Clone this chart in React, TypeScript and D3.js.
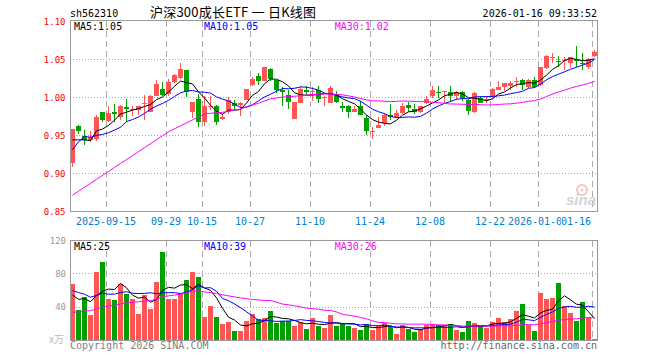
import React, { useRef, useEffect } from "react";
import * as d3 from "d3";

// trading days shown on the chart
const dates = [
  "2025-09-05",
  "2025-09-08", "2025-09-09", "2025-09-10", "2025-09-11", "2025-09-12",
  "2025-09-15", "2025-09-16", "2025-09-17", "2025-09-18", "2025-09-19",
  "2025-09-22", "2025-09-23", "2025-09-24", "2025-09-25", "2025-09-26",
  "2025-09-29", "2025-09-30", "2025-10-09", "2025-10-10",
  "2025-10-13", "2025-10-14", "2025-10-15", "2025-10-16", "2025-10-17",
  "2025-10-20", "2025-10-21", "2025-10-22", "2025-10-23", "2025-10-24",
  "2025-10-27", "2025-10-28", "2025-10-29", "2025-10-30", "2025-10-31",
  "2025-11-03", "2025-11-04", "2025-11-05", "2025-11-06", "2025-11-07",
  "2025-11-10", "2025-11-11", "2025-11-12", "2025-11-13", "2025-11-14",
  "2025-11-17", "2025-11-18", "2025-11-19", "2025-11-20", "2025-11-21",
  "2025-11-24", "2025-11-25", "2025-11-26", "2025-11-27", "2025-11-28",
  "2025-12-01", "2025-12-02", "2025-12-03", "2025-12-04", "2025-12-05",
  "2025-12-08", "2025-12-09", "2025-12-10", "2025-12-11", "2025-12-12",
  "2025-12-15", "2025-12-16", "2025-12-17", "2025-12-18", "2025-12-19",
  "2025-12-22", "2025-12-23", "2025-12-24", "2025-12-25", "2025-12-26",
  "2025-12-29", "2025-12-30", "2025-12-31",
  "2026-01-05", "2026-01-06", "2026-01-07", "2026-01-08", "2026-01-09",
  "2026-01-12", "2026-01-13", "2026-01-14", "2026-01-15", "2026-01-16",
];

const opens = [
  0.913, 0.962, 0.949, 0.944, 0.945, 0.981, 0.969, 0.98, 0.974, 0.987,
  0.983, 0.983, 0.991, 0.981, 1.002, 1.011, 1.004, 1.02, 1.025, 1.036,
  0.98, 0.997, 0.968, 0.988, 0.989, 0.971, 0.98, 0.993, 0.99, 0.996,
  1.016, 1.028, 1.021, 1.037, 1.023, 1.01, 1.003, 0.972, 0.993, 1.009,
  1.007, 1.009, 0.999, 0.993, 1.004, 0.988, 0.988, 0.98, 0.989, 0.973,
  0.955, 0.96, 0.966, 0.976, 0.974, 0.979, 0.99, 0.985, 0.98, 0.992,
  1.001, 1.007, 1.007, 1.007, 1.001, 1.007, 0.996, 0.981, 0.999, 0.997,
  1.001, 1.01, 1.014, 1.015, 1.02, 1.022, 1.013, 1.022, 1.016, 1.038,
  1.052, 1.048, 1.047, 1.045, 1.05, 1.045, 1.04, 1.054,
];
const highs = [
  0.958, 0.963, 0.957, 0.955, 0.977, 0.981, 0.989, 0.991, 0.99, 0.997,
  0.989, 0.988, 1.003, 1.003, 1.023, 1.02, 1.024, 1.031, 1.045, 1.036,
  0.994, 1.004, 1.001, 1.001, 0.99, 0.978, 1.0, 0.996, 0.994, 1.011,
  1.027, 1.032, 1.04, 1.038, 1.023, 1.013, 1.009, 0.994, 1.015, 1.015,
  1.014, 1.015, 1.002, 1.015, 1.008, 0.994, 0.99, 0.989, 0.995, 0.977,
  0.961, 0.974, 0.979, 0.991, 0.983, 0.992, 0.994, 0.991, 0.989, 1.001,
  1.015, 1.015, 1.008, 1.015, 1.008, 1.008, 0.997, 1.007, 1.001, 1.001,
  1.012, 1.021, 1.018, 1.021, 1.027, 1.024, 1.024, 1.027, 1.039, 1.056,
  1.058, 1.054, 1.053, 1.053, 1.067, 1.058, 1.051, 1.062,
];
const lows = [
  0.908, 0.952, 0.937, 0.941, 0.942, 0.967, 0.967, 0.967, 0.97, 0.968,
  0.975, 0.976, 0.97, 0.98, 1.001, 1.002, 1.002, 1.018, 1.024, 1.0,
  0.973, 0.961, 0.962, 0.983, 0.963, 0.97, 0.978, 0.983, 0.975, 0.996,
  1.015, 1.016, 1.021, 1.021, 1.006, 0.988, 0.985, 0.971, 0.992, 1.003,
  0.995, 0.992, 0.988, 0.993, 0.993, 0.98, 0.973, 0.98, 0.976, 0.95,
  0.945, 0.959, 0.962, 0.97, 0.973, 0.978, 0.98, 0.978, 0.979, 0.991,
  0.999, 0.999, 0.992, 0.994, 0.996, 0.995, 0.977, 0.979, 0.992, 0.992,
  0.997, 1.009, 1.008, 1.01, 1.014, 1.01, 1.012, 1.012, 1.015, 1.037,
  1.045, 1.04, 1.036, 1.038, 1.04, 1.036, 1.037, 1.053,
];
const closes = [
  0.958, 0.955, 0.944, 0.948, 0.974, 0.97, 0.979, 0.978, 0.989, 0.985,
  0.985, 0.988, 0.992, 1.002, 1.017, 1.003, 1.02, 1.029, 1.037, 1.007,
  0.994, 0.968, 0.989, 0.989, 0.968, 0.974, 0.996, 0.988, 0.993, 1.011,
  1.024, 1.021, 1.039, 1.024, 1.01, 1.007, 0.994, 0.994, 1.011, 1.007,
  1.008, 0.998, 1.0, 1.012, 0.994, 0.986, 0.98, 0.985, 0.977, 0.955,
  0.956, 0.964, 0.976, 0.974, 0.979, 0.989, 0.986, 0.981, 0.989, 0.997,
  1.009, 1.006, 1.008, 1.001, 1.007, 0.999, 0.982, 1.005, 0.993, 0.998,
  1.011, 1.014, 1.018, 1.019, 1.021, 1.016, 1.022, 1.014, 1.039, 1.054,
  1.053, 1.046, 1.049, 1.053, 1.047, 1.044, 1.05, 1.059,
];
// volume in 万手
const volumes = [
  67.2, 36, 51.2, 30, 81.6, 93.6, 49.2, 48, 67.2, 55.2,
  49.6, 31.2, 54, 37.2, 70, 105.6, 49.2, 49.2, 56, 72,
  81.6, 75.6, 27.6, 40.8, 27.6, 19.2, 21.6, 10.8, 10.8, 22.8,
  31.2, 25.2, 26.4, 34.8, 20.4, 22.8, 22.8, 16.8, 21.6, 13.2,
  26.4, 16.8, 14.4, 30, 16.8, 20, 16.8, 14.4, 12, 19.2,
  12, 16.8, 20.4, 16.8, 7.2, 18, 13.2, 9.6, 13.2, 18,
  19.2, 18, 18, 19.2, 12, 9.6, 22.8, 20.4, 16.8, 14.4,
  21.6, 26.4, 21.6, 25.2, 34.8, 43.2, 18, 10.8, 56, 49.2,
  51, 68, 40.8, 32.4, 22.8, 45.6, 27.6, 1.2,
];

// the 29 sessions before the window, estimated from where the MA lines start
const prevCloses = [
  0.799, 0.788, 0.792, 0.818, 0.814, 0.823, 0.822, 0.833, 0.829, 0.829,
  0.832, 0.836, 0.846, 0.861, 0.847, 0.864, 0.912, 0.92, 0.89, 0.877,
  0.851, 0.872, 0.96, 0.95, 0.957, 0.955, 0.944, 0.953, 0.91,
];
const prevVolumes = [
  18, 22, 16, 20, 25, 19, 14, 17, 21, 23,
  18, 26, 22, 19, 15, 20, 24, 21, 23, 21,
  58, 72, 66, 60, 66, 62, 47.2, 48, 45.6,
];

const tickDates = [
  "2025-09-15", "2025-09-29", "2025-10-15", "2025-10-27", "2025-11-10",
  "2025-11-24", "2025-12-08", "2025-12-22", "2026-01-05", "2026-01-16",
];
const tickLabels = [
  "2025-09-15", "09-29", "10-15", "10-27", "11-10",
  "11-24", "12-08", "12-22", "2026-01-05", "01-16",
];
const priceTicks = [0.85, 0.9, 0.95, 1.0, 1.05, 1.1];
const volumeTicks = [40, 80, 120];

const RED = "#ff5555";
const GREEN = "#00a000";
const MA_COLORS = ["#000000", "#0000ff", "#ff00ff"];
const MONO = "'DejaVu Sans Mono', monospace";

const movingAvg = (all: number[], n: number, offset: number) =>
  d3.range(offset, all.length).map((k) => d3.mean(all.slice(k - n + 1, k + 1)) as number);

const App: React.FC = () => {
  const ref = useRef<SVGSVGElement | null>(null);

  useEffect(() => {
    const svg = d3.select(ref.current);
    svg.selectAll("*").remove();

    const left = 70;
    const right = 597;

    const x = d3
      .scaleBand<string>()
      .domain(dates)
      .range([69.5, 597.5])
      .paddingInner(1 / 6)
      .paddingOuter(1 / 12);
    const bw = x.bandwidth();
    const cx = (d: string) => (x(d) as number) + bw / 2;

    const y = d3.scaleLinear().domain([0.85, 1.1]).range([211.5, 21]);
    const yv = d3.scaleLinear().domain([0, 120]).range([340, 240]);

    const allC = prevCloses.concat(closes);
    const allV = prevVolumes.concat(volumes);
    const off = prevCloses.length;
    const priceMAs = [5, 10, 30].map((n) => movingAvg(allC, n, off));
    const volMAs = [5, 10, 30].map((n) => movingAvg(allV, n, off));

    // header
    svg.append("text").attr("x", 70).attr("y", 16.5).attr("font-family", MONO)
      .attr("font-size", 10).text("sh562310");
    svg.append("text").attr("x", 150).attr("y", 17).attr("font-family", "'Noto Sans CJK SC', sans-serif")
      .attr("font-size", 13).attr("textLength", 166).attr("lengthAdjust", "spacing")
      .text("沪深300成长ETF 一 日K线图");
    svg.append("text").attr("x", 597).attr("y", 16.5).attr("text-anchor", "end")
      .attr("font-family", MONO).attr("font-size", 10).text("2026-01-16 09:33:52");

    // grid
    const grid = svg.append("g").attr("shape-rendering", "crispEdges");
    priceTicks.slice(1, -1).forEach((t) => {
      const yy = Math.round(y(t)) + 0.5;
      grid.append("line").attr("x1", left).attr("x2", right).attr("y1", yy).attr("y2", yy)
        .attr("stroke", "#aaa").attr("stroke-dasharray", "1,2");
    });
    volumeTicks.slice(0, -1).forEach((t) => {
      const yy = Math.round(yv(t)) + 0.5;
      grid.append("line").attr("x1", left).attr("x2", right).attr("y1", yy).attr("y2", yy)
        .attr("stroke", "#aaa").attr("stroke-dasharray", "1,2");
    });
    tickDates.forEach((d) => {
      const xx = (x(d) as number) + 0.5;
      [[21, 211], [241, 340]].forEach(([a, b]) => {
        grid.append("line").attr("x1", xx).attr("x2", xx).attr("y1", a).attr("y2", b)
          .attr("stroke", "#aaa").attr("stroke-dasharray", "6,4");
      });
    });

    // sina watermark
    const wm = svg.append("g");
    wm.append("circle").attr("cx", 582).attr("cy", 190).attr("r", 5)
      .attr("fill", "none").attr("stroke", "#f6c4c4").attr("stroke-width", 2);
    wm.append("circle").attr("cx", 582).attr("cy", 190).attr("r", 1.5).attr("fill", "#f6c4c4");
    wm.append("text").attr("x", 566).attr("y", 205).attr("font-family", "Arial, 'Liberation Sans', sans-serif")
      .attr("font-size", 15).attr("font-weight", "bold").attr("font-style", "italic")
      .attr("fill", "#d4d4d4").text("sina");

    // candles
    const candles = svg.append("g").attr("shape-rendering", "crispEdges")
      .selectAll("g").data(dates).enter().append("g");
    candles.append("line")
      .attr("x1", (d) => cx(d)).attr("x2", (d) => cx(d))
      .attr("y1", (_, i) => y(highs[i])).attr("y2", (_, i) => y(lows[i]))
      .attr("stroke", (_, i) => (closes[i] >= opens[i] ? RED : GREEN));
    candles.append("rect")
      .attr("x", (d) => x(d) as number)
      .attr("y", (_, i) => y(Math.max(opens[i], closes[i])))
      .attr("width", bw)
      .attr("height", (_, i) => Math.max(1, y(Math.min(opens[i], closes[i])) - y(Math.max(opens[i], closes[i]))))
      .attr("fill", (_, i) => (closes[i] >= opens[i] ? RED : GREEN));

    // volume bars
    svg.append("g").attr("shape-rendering", "crispEdges")
      .selectAll("rect").data(dates).enter().append("rect")
      .attr("x", (d) => x(d) as number)
      .attr("y", (_, i) => yv(volumes[i]))
      .attr("width", bw)
      .attr("height", (_, i) => 340 - yv(volumes[i]))
      .attr("fill", (_, i) => (closes[i] >= opens[i] ? RED : GREEN));

    // MA lines
    priceMAs.forEach((ma, k) => {
      const line = d3.line<number>().x((_, i) => cx(dates[i])).y((v) => y(v));
      svg.append("path").attr("d", line(ma)).attr("fill", "none")
        .attr("stroke", MA_COLORS[k]).attr("stroke-width", 1);
    });
    volMAs.forEach((ma, k) => {
      const line = d3.line<number>().x((_, i) => cx(dates[i])).y((v) => yv(v));
      svg.append("path").attr("d", line(ma)).attr("fill", "none")
        .attr("stroke", MA_COLORS[k]).attr("stroke-width", 1);
    });

    // frames
    const frame = svg.append("g").attr("shape-rendering", "crispEdges");
    frame.append("rect").attr("x", 70.5).attr("y", 20.5).attr("width", 527).attr("height", 191)
      .attr("fill", "none").attr("stroke", "#999");
    frame.append("rect").attr("x", 70.5).attr("y", 240.5).attr("width", 527).attr("height", 100)
      .attr("fill", "none").attr("stroke", "#999");

    // axis labels
    priceTicks.forEach((t) => {
      svg.append("text").attr("x", 65.5).attr("y", y(t) + 3.8).attr("text-anchor", "end")
        .attr("font-family", MONO).attr("font-size", 9).attr("fill", "#ff0000").text(t.toFixed(2));
    });
    volumeTicks.forEach((t) => {
      svg.append("text").attr("x", 66).attr("y", yv(t) + 3.5).attr("text-anchor", "end")
        .attr("font-family", MONO).attr("font-size", 9).attr("fill", "#999").text(String(t));
    });
    svg.append("text").attr("x", 64).attr("y", 343).attr("text-anchor", "end")
      .attr("font-family", "'Noto Sans CJK SC', sans-serif").attr("font-size", 10)
      .attr("fill", "#bbb").text("x万");

    tickDates.forEach((d, i) => {
      const label = tickLabels[i];
      const w = label.length * 6.02;
      const c = Math.min(x(d) as number, 591 - w / 2);
      svg.append("rect").attr("x", c - w / 2).attr("y", 214).attr("width", w).attr("height", 13)
        .attr("fill", "#fff");
      svg.append("text").attr("x", c).attr("y", 225).attr("text-anchor", "middle")
        .attr("font-family", MONO).attr("font-size", 10).attr("fill", "#0080d0").text(label);
    });

    // legends
    const legendX = [74, 204, 334.7];
    const names = ["MA5:", "MA10:", "MA30:"];
    priceMAs.forEach((ma, k) => {
      svg.append("text").attr("x", legendX[k]).attr("y", 29.5).attr("font-family", MONO)
        .attr("font-size", 10).attr("fill", MA_COLORS[k])
        .text(names[k] + ma[ma.length - 1].toFixed(2));
    });
    volMAs.forEach((ma, k) => {
      svg.append("text").attr("x", legendX[k]).attr("y", 249.5).attr("font-family", MONO)
        .attr("font-size", 10).attr("fill", MA_COLORS[k])
        .text(names[k] + Math.floor(ma[ma.length - 1]));
    });

    // footer
    svg.append("text").attr("x", 70).attr("y", 349).attr("font-family", MONO)
      .attr("font-size", 10).attr("fill", "#808080").text("Copyright 2026 SINA.COM");
    svg.append("text").attr("x", 597).attr("y", 349).attr("text-anchor", "end")
      .attr("font-family", MONO).attr("font-size", 10).attr("fill", "#666")
      .text("http://finance.sina.com.cn");
  }, []);

  return (
    <svg
      ref={ref}
      width={660}
      height={360}
      style={{ position: "absolute", left: 0, top: 0, background: "#fff" }}
    ></svg>
  );
};

export default App;
